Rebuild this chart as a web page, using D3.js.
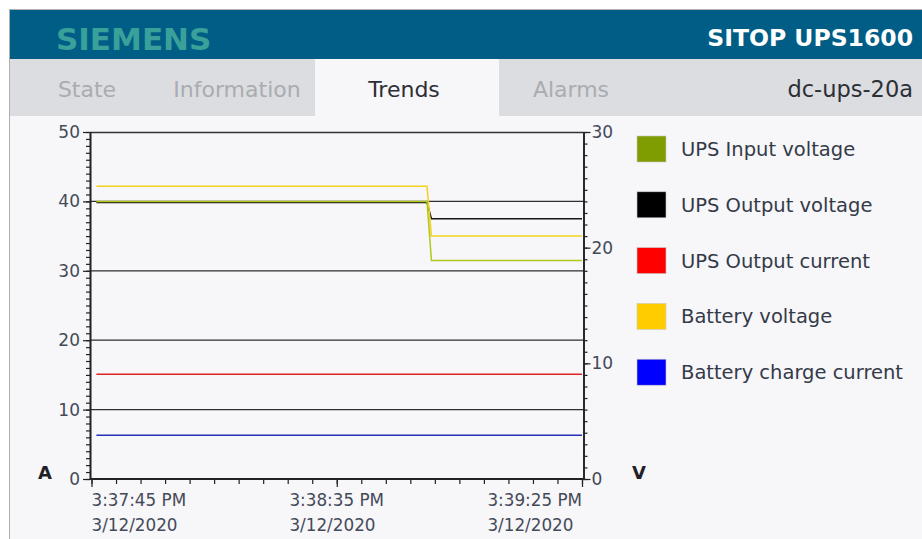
<!DOCTYPE html>
<html>
<head>
<meta charset="utf-8">
<script src="https://cdn.jsdelivr.net/npm/d3@7"></script>
<style>
  body { margin: 0; background: #fff; }
  svg text { font-family: "DejaVu Sans", sans-serif; }
</style>
</head>
<body>
<svg id="chart" width="922" height="539"></svg>
<script>
// trend samples (one row per time stamp)
var times = ["2020-03-12 15:37:46.000", "2020-03-12 15:38:53.400", "2020-03-12 15:38:54.300", "2020-03-12 15:39:25.000"];
var inputVoltage = [24.0, 24.0, 18.9, 18.9];     // V
var outputVoltage = [23.9, 23.9, 22.5, 22.5];    // V
var outputCurrent = [15.1, 15.1, 15.1, 15.1];    // A
var batteryVoltage = [25.3, 25.3, 21.0, 21.0];   // V
var chargeCurrent = [6.3, 6.3, 6.3, 6.3];        // A

var seriesNames = ["UPS Input voltage", "UPS Output voltage", "UPS Output current", "Battery voltage", "Battery charge current"];
var legendColors = ["#7f9c00", "#000000", "#ff0000", "#ffcc00", "#0000ff"];
var lineColors = ["#b2c71c", "#151515", "#e02424", "#f3d21c", "#2232b4"];
var seriesAxis = ["V", "V", "A", "V", "A"];

var ampTicks = [0, 10, 20, 30, 40, 50];
var voltTicks = [0, 10, 20, 30];
var timeTicks = ["2020-03-12 15:37:45.000", "2020-03-12 15:38:35.000", "2020-03-12 15:39:25.000"];
var tabs = ["State", "Information", "Trends", "Alarms"];

function draw() {
    var parse = d3.timeParse("%Y-%m-%d %H:%M:%S.%L");
    var fmtTime = d3.timeFormat("%-I:%M:%S %p");
    var fmtDate = d3.timeFormat("%-m/%-d/%Y");

    var svg = d3.select("#chart");

    // frame + header
    svg.append("rect").attr("x", 9.5).attr("y", 9.5).attr("width", 920).attr("height", 540)
        .attr("fill", "#f7f6f8").attr("stroke", "#b0b0b0");
    svg.append("rect").attr("x", 10).attr("y", 10).attr("width", 912).attr("height", 49).attr("fill", "#005e86");
    svg.append("text").attr("x", 56).attr("y", 50).text("SIEMENS")
        .attr("font-size", 31).attr("font-weight", "bold").attr("fill", "#3aa09a");
    svg.append("text").attr("x", 913).attr("y", 46).attr("text-anchor", "end").text("SITOP UPS1600")
        .attr("font-size", 23.5).attr("font-weight", "bold").attr("fill", "#fff");

    // tab row
    svg.append("rect").attr("x", 10).attr("y", 59).attr("width", 912).attr("height", 57).attr("fill", "#dcdde0");
    svg.append("rect").attr("x", 315).attr("y", 59).attr("width", 184).attr("height", 57).attr("fill", "#f7f6f8");
    var tabX = [87, 237, 404, 571];
    svg.selectAll(".tab").data(tabs).enter().append("text")
        .attr("class", "tab")
        .attr("x", (d, i) => tabX[i]).attr("y", 97)
        .attr("text-anchor", "middle").attr("font-size", 22)
        .attr("fill", d => d == "Trends" ? "#2c2f36" : "#a9acb1")
        .text(d => d);
    svg.append("text").attr("x", 913).attr("y", 97).attr("text-anchor", "end")
        .attr("font-size", 22.5).attr("fill", "#2c2f36").text("dc-ups-20a");

    // scales
    var pLeft = 90, pRight = 583.5, pTop = 132, pBottom = 479;
    var x = d3.scaleTime().domain([parse(timeTicks[0]), parse(timeTicks[2])]).range([91.5, 582]);
    var yA = d3.scaleLinear().domain([0, 50]).range([pBottom, pTop]);
    var yV = d3.scaleLinear().domain([0, 30]).range([pBottom, pTop]);

    // grid lines
    svg.append("g").selectAll("line").data([10, 20, 30, 40]).enter().append("line")
        .attr("x1", pLeft).attr("x2", pRight).attr("y1", d => yA(d)).attr("y2", d => yA(d))
        .attr("stroke", "#2e2e2e").attr("stroke-width", 1.2);
    svg.append("line").attr("x1", pLeft).attr("x2", pRight).attr("y1", pTop + 0.5).attr("y2", pTop + 0.5)
        .attr("stroke", "#333").attr("stroke-width", 1.4);

    // series
    var data = times.map((t, i) => ({
        t: parse(t),
        v: [inputVoltage[i], outputVoltage[i], outputCurrent[i], batteryVoltage[i], chargeCurrent[i]]
    }));
    var drawOrder = [4, 2, 1, 3, 0];
    drawOrder.forEach(function(k) {
        var yy = seriesAxis[k] == "A" ? yA : yV;
        var line = d3.line().x(d => x(d.t)).y(d => yy(d.v[k]));
        svg.append("path").datum(data).attr("d", line)
            .attr("fill", "none").attr("stroke", lineColors[k]).attr("stroke-width", 1.5);
    });

    function styleAxis(g) {
        g.select(".domain").attr("stroke", "#222").attr("stroke-width", 1.6);
        g.selectAll(".tick line").attr("stroke", "#222").attr("stroke-width", 1.2);
        g.selectAll("text").attr("font-size", 17).attr("fill", "#444a58")
            .attr("font-family", "DejaVu Sans, sans-serif");
    }

    // left axis (A)
    var gAm = svg.append("g").attr("transform", "translate(" + pLeft + ",0)")
        .call(d3.axisLeft(yA).tickValues(d3.range(0, 51, 1)).tickSize(4).tickFormat("").tickSizeOuter(0));
    styleAxis(gAm);
    var gA = svg.append("g").attr("transform", "translate(" + pLeft + ",0)")
        .call(d3.axisLeft(yA).tickValues(ampTicks).tickSize(7).tickPadding(3).tickSizeOuter(0));
    styleAxis(gA);

    // right axis (V)
    var gVm = svg.append("g").attr("transform", "translate(" + pRight + ",0)")
        .call(d3.axisRight(yV).tickValues(d3.range(0, 31, 1)).tickSize(4).tickFormat("").tickSizeOuter(0));
    styleAxis(gVm);
    var gV = svg.append("g").attr("transform", "translate(" + pRight + ",0)")
        .call(d3.axisRight(yV).tickValues(voltTicks).tickSize(7).tickPadding(1).tickSizeOuter(0));
    styleAxis(gV);

    // bottom axis (time)
    var minorTimes = d3.timeSecond.every(5).range(parse(timeTicks[0]), d3.timeSecond.offset(parse(timeTicks[2]), 1));
    var gXm = svg.append("g").attr("transform", "translate(0," + pBottom + ")")
        .call(d3.axisBottom(x).tickValues(minorTimes).tickSize(5).tickFormat("").tickSizeOuter(0));
    styleAxis(gXm);
    gXm.select(".domain").attr("d", "M" + pLeft + ",0H" + pRight).attr("stroke-width", 2.2);
    var gX = svg.append("g").attr("transform", "translate(0," + pBottom + ")")
        .call(d3.axisBottom(x).tickValues(timeTicks.map(parse)).tickSize(8).tickFormat("").tickSizeOuter(0));
    styleAxis(gX);
    gX.select(".domain").remove();

    // time labels: two lines, block anchored start / middle / end
    timeTicks.forEach(function(t, i) {
        var d = parse(t);
        var g = svg.append("g");
        var t1 = g.append("text").attr("y", 506).attr("font-size", 16.8).attr("fill", "#444a58").text(fmtTime(d));
        var t2 = g.append("text").attr("y", 531).attr("font-size", 16.8).attr("fill", "#444a58").text(fmtDate(d));
        var w = Math.max(t1.node().getComputedTextLength(), t2.node().getComputedTextLength());
        var x0 = x(d) - (i == 0 ? 0 : i == 1 ? w / 2 : w);
        t1.attr("x", x0); t2.attr("x", x0);
    });

    // unit letters
    svg.append("text").attr("x", 38).attr("y", 479).text("A")
        .attr("font-size", 18).attr("font-weight", "bold").attr("fill", "#1e2228");
    svg.append("text").attr("x", 632).attr("y", 479).text("V")
        .attr("font-size", 18).attr("font-weight", "bold").attr("fill", "#1e2228");

    // legend
    var lg = svg.append("g").selectAll("g").data(seriesNames).enter().append("g")
        .attr("transform", (d, i) => "translate(637," + (136 + i * 55.8) + ")");
    lg.append("rect").attr("width", 29).attr("height", 26)
        .attr("fill", (d, i) => legendColors[i]).attr("stroke", "#c8c8c8").attr("stroke-width", 0.6);
    lg.append("text").attr("x", 44).attr("y", 20).attr("font-size", 19.5).attr("fill", "#333a48").text(d => d);
}

draw();
</script>
</body>
</html>
